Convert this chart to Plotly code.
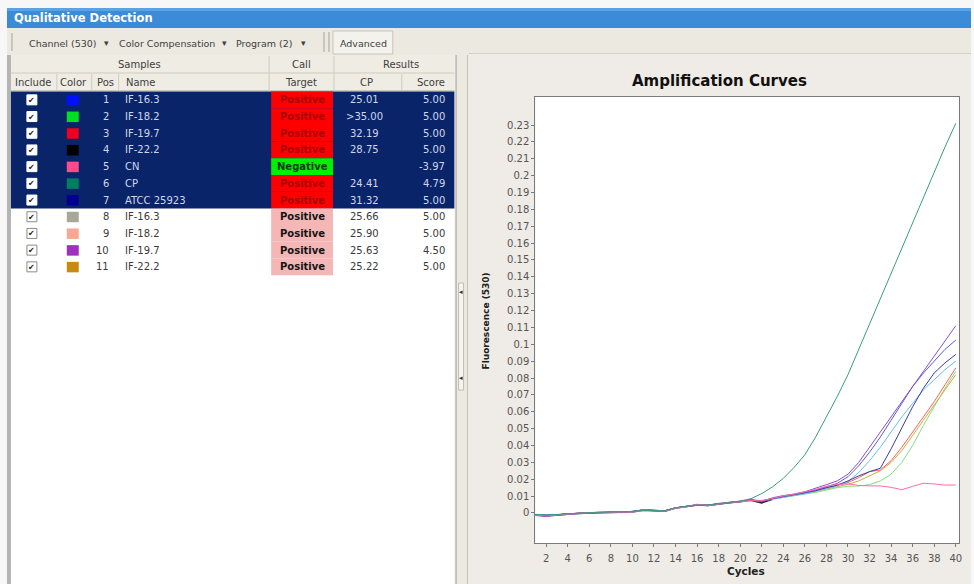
import plotly.graph_objects as go

# ---------------- data ----------------
cycles = list(range(1, 41))

curve_cp = [-0.0008, -0.0012, -0.0009, -0.0004, -0.0001, 0.0002, 0.0004, 0.0006, 0.0005, 0.0009,
            0.0016, 0.0014, 0.0013, 0.0031, 0.0037, 0.0047, 0.0046, 0.0056, 0.0063, 0.0070,
            0.0085, 0.0115, 0.0155, 0.0205, 0.0270, 0.0345, 0.0450, 0.0570, 0.0690, 0.0820,
            0.0970, 0.1120, 0.1280, 0.1430, 0.1580, 0.1730, 0.1880, 0.2030, 0.2170, 0.2310]
curve_cn = [-0.0012, -0.0018, -0.0011, -0.0006, -0.0001, 0.0003, 0.0006, 0.0004, 0.0007, 0.0006,
            0.0019, 0.0016, 0.0011, 0.0028, 0.0036, 0.0052, 0.0044, 0.0053, 0.0064, 0.0066,
            0.0075, 0.0072, 0.0088, 0.0101, 0.0112, 0.0125, 0.0140, 0.0158, 0.0170, 0.0172,
            0.0163, 0.0161, 0.0160, 0.0152, 0.0138, 0.0158, 0.0176, 0.0172, 0.0165, 0.0166]
curve_purple = [-0.0015, -0.0022, -0.0014, -0.0007, -0.0003, 0.0001, 0.0002, 0.0006, 0.0003, 0.0007,
                0.0017, 0.0013, 0.0010, 0.0029, 0.0039, 0.0049, 0.0043, 0.0054, 0.0061, 0.0069,
                0.0076, 0.0068, 0.0090, 0.0103, 0.0112, 0.0126, 0.0145, 0.0168, 0.0190, 0.0230,
                0.0300, 0.0390, 0.0480, 0.0570, 0.0660, 0.0750, 0.0840, 0.0930, 0.1020, 0.1110]
curve_blue = [-0.0009, -0.0013, -0.0010, -0.0005, -0.0002, -0.0001, 0.0004, 0.0004, 0.0005, 0.0009,
              0.0019, 0.0016, 0.0013, 0.0030, 0.0040, 0.0046, 0.0047, 0.0057, 0.0060, 0.0067,
              0.0079, 0.0070, 0.0086, 0.0097, 0.0110, 0.0120, 0.0136, 0.0155, 0.0175, 0.0215,
              0.0280, 0.0360, 0.0450, 0.0550, 0.0650, 0.0750, 0.0830, 0.0900, 0.0970, 0.1025]
curve_navy = [-0.0010, -0.0016, -0.0012, -0.0004, -0.0002, 0.0001, 0.0003, 0.0005, 0.0002, 0.0008,
              0.0018, 0.0015, 0.0012, 0.0029, 0.0038, 0.0048, 0.0045, 0.0055, 0.0062, 0.0068,
              0.0078, 0.0066, 0.0085, 0.0098, 0.0108, 0.0118, 0.0132, 0.0150, 0.0165, 0.0190,
              0.0220, 0.0245, 0.0265, 0.0380, 0.0510, 0.0630, 0.0740, 0.0830, 0.0890, 0.0940]
curve_cyan = [-0.0011, -0.0013, -0.0009, -0.0006, -0.0003, 0.0000, 0.0002, 0.0003, 0.0004, 0.0006,
              0.0015, 0.0014, 0.0012, 0.0027, 0.0036, 0.0045, 0.0046, 0.0053, 0.0060, 0.0066,
              0.0074, 0.0071, 0.0083, 0.0094, 0.0104, 0.0114, 0.0128, 0.0145, 0.0160, 0.0185,
              0.0240, 0.0310, 0.0390, 0.0480, 0.0570, 0.0650, 0.0730, 0.0790, 0.0850, 0.0900]
curve_red = [-0.0010, -0.0014, -0.0011, -0.0005, -0.0001, 0.0002, 0.0004, 0.0007, 0.0005, 0.0008,
             0.0017, 0.0015, 0.0013, 0.0030, 0.0037, 0.0050, 0.0045, 0.0056, 0.0062, 0.0069,
             0.0077, 0.0074, 0.0087, 0.0099, 0.0109, 0.0121, 0.0134, 0.0150, 0.0165, 0.0180,
             0.0210, 0.0245, 0.0255, 0.0310, 0.0390, 0.0480, 0.0570, 0.0660, 0.0760, 0.0860]
curve_green = [-0.0009, -0.0012, -0.0010, -0.0005, -0.0002, 0.0001, 0.0003, 0.0004, 0.0005, 0.0007,
               0.0016, 0.0014, 0.0012, 0.0028, 0.0036, 0.0046, 0.0045, 0.0054, 0.0060, 0.0066,
               0.0074, 0.0072, 0.0082, 0.0092, 0.0101, 0.0110, 0.0122, 0.0136, 0.0150, 0.0158,
               0.0160, 0.0168, 0.0190, 0.0230, 0.0300, 0.0400, 0.0520, 0.0630, 0.0740, 0.0840]
curve_gold = [-0.0010, -0.0013, -0.0010, -0.0006, -0.0002, 0.0001, 0.0003, 0.0005, 0.0004, 0.0007,
              0.0016, 0.0015, 0.0012, 0.0029, 0.0037, 0.0047, 0.0045, 0.0055, 0.0061, 0.0067,
              0.0076, 0.0071, 0.0084, 0.0095, 0.0105, 0.0115, 0.0128, 0.0142, 0.0155, 0.0170,
              0.0190, 0.0220, 0.0250, 0.0300, 0.0370, 0.0460, 0.0550, 0.0640, 0.0730, 0.0820]
cycles_black = list(range(1, 24))
curve_black = [-0.0011, -0.0014, -0.0012, -0.0006, -0.0003, 0.0000, 0.0002, 0.0004, 0.0003, 0.0006,
               0.0017, 0.0014, 0.0011, 0.0030, 0.0037, 0.0047, 0.0044, 0.0054, 0.0061, 0.0067,
               0.0076, 0.0060, 0.0082]

curve_colors = ["#3a9c80", "#ff6aa8", "#8a50c8", "#5a5ae6", "#3a3aa8", "#66bde6",
                "#ff6060", "#7ee07e", "#d4aa3c"]

ytick_vals = [0, 0.01, 0.02, 0.03, 0.04, 0.05, 0.06, 0.07, 0.08, 0.09, 0.1, 0.11, 0.12,
              0.13, 0.14, 0.15, 0.16, 0.17, 0.18, 0.19, 0.2, 0.21, 0.22, 0.23]
ytick_text = ["0", "0.01", "0.02", "0.03", "0.04", "0.05", "0.06", "0.07", "0.08", "0.09",
              "0.1", "0.11", "0.12", "0.13", "0.14", "0.15", "0.16", "0.17", "0.18", "0.19",
              "0.2", "0.21", "0.22", "0.23"]
xtick_vals = list(range(2, 41, 2))

# table data
pos = [1, 2, 3, 4, 5, 6, 7, 8, 9, 10, 11]
names = ["IF-16.3", "IF-18.2", "IF-19.7", "IF-22.2", "CN", "CP", "ATCC 25923",
         "IF-16.3", "IF-18.2", "IF-19.7", "IF-22.2"]
calls = ["Positive", "Positive", "Positive", "Positive", "Negative", "Positive", "Positive",
         "Positive", "Positive", "Positive", "Positive"]
cp_vals = ["25.01", ">35.00", "32.19", "28.75", "", "24.41", "31.32", "25.66", "25.90", "25.63", "25.22"]
scores = ["5.00", "5.00", "5.00", "5.00", "-3.97", "4.79", "5.00", "5.00", "5.00", "4.50", "5.00"]
sample_colors = ["#0010ff", "#00e020", "#f00020", "#000000", "#ff4a8a", "#008060", "#000090",
                 "#a8a898", "#f8a890", "#a030c0", "#c88a10"]
selected = [True, True, True, True, True, True, True, False, False, False, False]

# ---------------- layout helpers ----------------
W, H = 974, 584
def X(p): return p / W
def Y(p): return 1 - p / H

shapes = []
annos = []

def rect(x0, y0, x1, y1, fill, line=None, lw=0):
    shapes.append(dict(type="rect", xref="paper", yref="paper", layer="below",
                       x0=X(x0), x1=X(x1), y0=Y(y1), y1=Y(y0), fillcolor=fill,
                       line=dict(width=lw, color=line if line else fill)))

def vline(x, y0, y1, color, w=1):
    shapes.append(dict(type="line", xref="paper", yref="paper", layer="below",
                       x0=X(x), x1=X(x), y0=Y(y0), y1=Y(y1), line=dict(color=color, width=w)))

def hline(x0, x1, y, color, w=1):
    shapes.append(dict(type="line", xref="paper", yref="paper", layer="below",
                       x0=X(x0), x1=X(x1), y0=Y(y), y1=Y(y), line=dict(color=color, width=w)))

def text(x, y, s, size=10, color="#404040", anchor="left", bold=False, family="DejaVu Sans", angle=0):
    annos.append(dict(xref="paper", yref="paper", x=X(x), y=Y(y), text=("<b>%s</b>" % s) if bold else s,
                      showarrow=False, xanchor=anchor, yanchor="middle", textangle=angle,
                      font=dict(size=size, color=color, family=family)))

# outer top strip
rect(0, 0, 974, 8, "#f7f7f7")
rect(0, 0, 7, 584, "#f7f7f7")

# title bar
rect(7, 8, 974, 28, "#3b8bd9")
rect(7, 8, 974, 11, "#5aa2e6")
text(12, 18, "Qualitative Detection", size=11.5, color="#ffffff", bold=True)

# toolbar
rect(7, 28, 974, 55, "#ece9e1")
vline(12, 33, 51, "#a8a49a")
text(27, 43, "Channel (530)", size=9.5)
text(107, 43, "▾", size=9, anchor="center")
text(117, 43, "Color Compensation", size=9.5)
text(225, 43, "▾", size=9, anchor="center")
text(235, 43, "Program (2)", size=9.5)
text(304, 43, "▾", size=9, anchor="center")
vline(325, 32, 52, "#a8a49a")
vline(330, 32, 52, "#a8a49a")
rect(334, 31, 394, 54, "#f4f2ec", line="#c8c4ba", lw=1)
text(339, 43, "Advanced", size=9.5)

# left table panel
rect(7, 55, 11, 584, "#b4b4b4")
rect(11, 55, 456, 91, "#efece4")
hline(11, 456, 73, "#cfcbbf")
hline(11, 456, 91, "#a8a498")
for xv in [270, 335]:
    vline(xv, 56, 91, "#cfcbbf")
for xv in [57, 92, 119, 403]:
    vline(xv, 74, 91, "#cfcbbf")
text(140, 64.5, "Samples", anchor="center")
text(302, 64.5, "Call", anchor="center")
text(402, 64.5, "Results", anchor="center")
text(33, 82, "Include", anchor="center")
text(74, 82, "Color", anchor="center")
text(106, 82, "Pos", anchor="center")
text(124, 82, "Name")
text(302, 82, "Target", anchor="center")
text(368, 82, "CP", anchor="center")
text(448, 82, "Score", anchor="right")
rect(11, 91.5, 456, 584, "#ffffff")

row_top = 91.5
row_h = 16.7
n_sel = sum(1 for s in selected if s)
rect(11, row_top, 456, row_top + n_sel * row_h, "#0a246a")
for i in range(len(pos)):
    t = row_top + i * row_h
    c = t + row_h / 2
    sel = selected[i]
    neg = calls[i] == "Negative"
    if sel:
        cell = "#00f000" if neg else "#ff0000"
        ccol = "#0a3a0a" if neg else "#a80000"
        fg = "#d0d6ec"
    else:
        cell = "#f5b6b6"
        ccol = "#141414"
        fg = "#3a3a3a"
    rect(272, t, 334, t + row_h, cell)
    # checkbox
    rect(27, c - 5, 37, c + 5, "#ffffff", line="#ffffff" if sel else "#8a8a8a", lw=1)
    text(32, c + 0.5, "✔", size=8, color="#202020", anchor="center")
    # swatch
    rect(67, c - 5, 79, c + 5.5, sample_colors[i])
    text(111, c, str(pos[i]), color=fg, anchor="right")
    text(123, c, names[i], color=fg)
    text(303, c, calls[i], color=ccol, anchor="center", bold=True)
    text(366, c, cp_vals[i], color=fg, anchor="center")
    text(448, c, scores[i], color=fg, anchor="right")

# splitter
rect(456, 55, 470, 584, "#ece9e1")
vline(457.5, 55, 584, "#a0a0a0")
vline(469, 55, 584, "#c4c0b6")
rect(460, 283, 465, 390, "#f6f4ee", line="#c0bcb2", lw=1)
text(462.5, 292, "◂", size=7, color="#303030", anchor="center")
text(462.5, 378, "◂", size=7, color="#303030", anchor="center")

# right panel + plot area
rect(470, 53, 974, 584, "#efebe6")
hline(470, 974, 53.5, "#d4d0c8")
rect(537, 97, 962, 543, "#ffffff")

text(722, 81, "Amplification Curves", size=15, color="#101010", anchor="center", bold=True)
text(488, 321, "Fluorescence (530)", size=9, color="#202020", anchor="center", bold=True, angle=-90)
text(748, 571, "Cycles", size=10.5, color="#202020", anchor="center", bold=True)

# ---------------- figure ----------------
fig = go.Figure()
fig.add_trace(go.Scatter(x=cycles_black, y=curve_black, mode="lines",
                         line=dict(color="#202028", width=1.6), showlegend=False, hoverinfo="skip"))
series = [curve_green, curve_gold, curve_red, curve_cyan, curve_navy, curve_blue, curve_purple,
          curve_cn, curve_cp]
series_colors = [curve_colors[7], curve_colors[8], curve_colors[6], curve_colors[5], curve_colors[4],
                 curve_colors[3], curve_colors[2], curve_colors[1], curve_colors[0]]
for ys, col in zip(series, series_colors):
    fig.add_trace(go.Scatter(x=cycles, y=ys, mode="lines", line=dict(color=col, width=1),
                             showlegend=False, hoverinfo="skip"))

axis_font = dict(size=10, color="#555555", family="DejaVu Sans")
fig.update_layout(
    width=W, height=H, margin=dict(l=0, r=0, t=0, b=0),
    paper_bgcolor="#f7f7f7", plot_bgcolor="rgba(0,0,0,0)",
    shapes=shapes, annotations=annos, hovermode=False,
    xaxis=dict(domain=[X(537), X(962)], range=[1, 40.3], tickvals=xtick_vals,
               showgrid=False, zeroline=False, showline=True, mirror=True, linecolor="#7a7a7a",
               ticks="outside", ticklen=3, tickcolor="#7a7a7a", tickfont=axis_font,
               ticklabelstandoff=3),
    yaxis=dict(domain=[Y(543), Y(97)], range=[-0.0178, 0.2466], tickvals=ytick_vals,
               ticktext=ytick_text, showgrid=False, zeroline=False, showline=True, mirror=True,
               linecolor="#7a7a7a", ticks="outside", ticklen=3, tickcolor="#7a7a7a",
               tickfont=axis_font),
)
fig.write_html("out.html", config={"displayModeBar": False},
               post_script="document.body.style.margin='0px';document.body.style.overflow='hidden';")
